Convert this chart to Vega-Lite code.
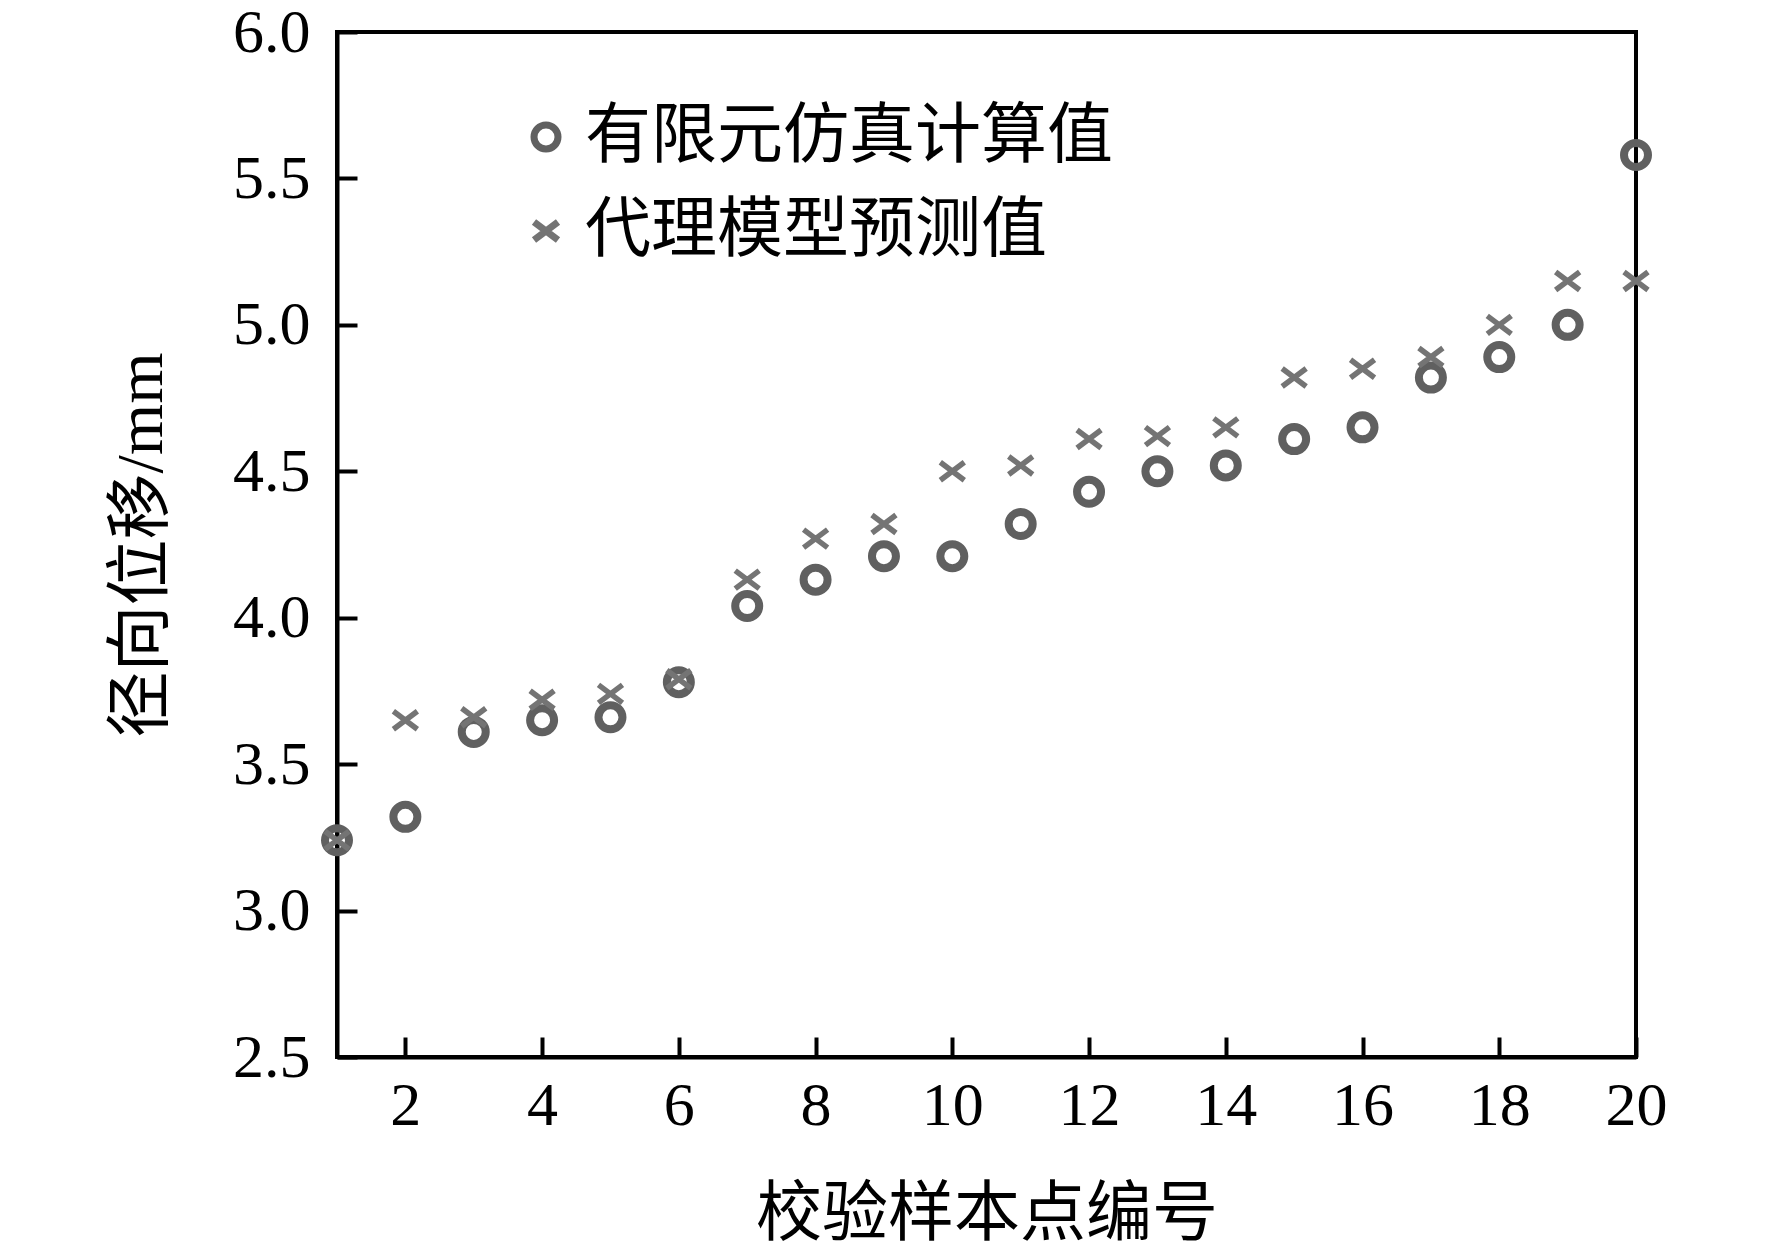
{
  "$schema": "https://vega.github.io/schema/vega-lite/v6.json",
  "autosize": "none",
  "padding": {"left": 337, "top": 32, "right": 136, "bottom": 194},
  "width": 1299,
  "height": 1025,
  "background": "white",
  "data": {
    "values": [
      {"sample": 1, "series": "有限元仿真计算值", "value": 3.24},
      {"sample": 2, "series": "有限元仿真计算值", "value": 3.32},
      {"sample": 3, "series": "有限元仿真计算值", "value": 3.61},
      {"sample": 4, "series": "有限元仿真计算值", "value": 3.65},
      {"sample": 5, "series": "有限元仿真计算值", "value": 3.66},
      {"sample": 6, "series": "有限元仿真计算值", "value": 3.78},
      {"sample": 7, "series": "有限元仿真计算值", "value": 4.04},
      {"sample": 8, "series": "有限元仿真计算值", "value": 4.13},
      {"sample": 9, "series": "有限元仿真计算值", "value": 4.21},
      {"sample": 10, "series": "有限元仿真计算值", "value": 4.21},
      {"sample": 11, "series": "有限元仿真计算值", "value": 4.32},
      {"sample": 12, "series": "有限元仿真计算值", "value": 4.43},
      {"sample": 13, "series": "有限元仿真计算值", "value": 4.50},
      {"sample": 14, "series": "有限元仿真计算值", "value": 4.52},
      {"sample": 15, "series": "有限元仿真计算值", "value": 4.61},
      {"sample": 16, "series": "有限元仿真计算值", "value": 4.65},
      {"sample": 17, "series": "有限元仿真计算值", "value": 4.82},
      {"sample": 18, "series": "有限元仿真计算值", "value": 4.89},
      {"sample": 19, "series": "有限元仿真计算值", "value": 5.00},
      {"sample": 20, "series": "有限元仿真计算值", "value": 5.58},
      {"sample": 1, "series": "代理模型预测值", "value": 3.24},
      {"sample": 2, "series": "代理模型预测值", "value": 3.65},
      {"sample": 3, "series": "代理模型预测值", "value": 3.66},
      {"sample": 4, "series": "代理模型预测值", "value": 3.72},
      {"sample": 5, "series": "代理模型预测值", "value": 3.74},
      {"sample": 6, "series": "代理模型预测值", "value": 3.79},
      {"sample": 7, "series": "代理模型预测值", "value": 4.13},
      {"sample": 8, "series": "代理模型预测值", "value": 4.27},
      {"sample": 9, "series": "代理模型预测值", "value": 4.32},
      {"sample": 10, "series": "代理模型预测值", "value": 4.50},
      {"sample": 11, "series": "代理模型预测值", "value": 4.52},
      {"sample": 12, "series": "代理模型预测值", "value": 4.61},
      {"sample": 13, "series": "代理模型预测值", "value": 4.62},
      {"sample": 14, "series": "代理模型预测值", "value": 4.65},
      {"sample": 15, "series": "代理模型预测值", "value": 4.82},
      {"sample": 16, "series": "代理模型预测值", "value": 4.85},
      {"sample": 17, "series": "代理模型预测值", "value": 4.89},
      {"sample": 18, "series": "代理模型预测值", "value": 5.00},
      {"sample": 19, "series": "代理模型预测值", "value": 5.15},
      {"sample": 20, "series": "代理模型预测值", "value": 5.15}
    ]
  },
  "encoding": {
    "x": {
      "field": "sample",
      "type": "quantitative",
      "scale": {"domain": [1, 20], "nice": false, "zero": false},
      "axis": {
        "title": "校验样本点编号",
        "values": [2, 4, 6, 8, 10, 12, 14, 16, 18, 20],
        "format": "d",
        "grid": false,
        "tickSize": -20,
        "labelPadding": 38,
        "labelFlush": false,
        "titleX": 649.5,
        "titleY": 157,
        "titleBaseline": "middle"
      }
    },
    "y": {
      "field": "value",
      "type": "quantitative",
      "scale": {"domain": [2.5, 6.0], "nice": false, "zero": false},
      "axis": {
        "title": "径向位移/mm",
        "values": [2.5, 3.0, 3.5, 4.0, 4.5, 5.0, 5.5, 6.0],
        "format": ".1f",
        "grid": false,
        "tickSize": -20,
        "labelPadding": 47,
        "labelFlush": false,
        "titleX": -196,
        "titleY": 512.5,
        "titleAngle": -90,
        "titleAlign": "center",
        "titleBaseline": "middle"
      }
    },
    "color": {
      "field": "series",
      "type": "nominal",
      "scale": {
        "domain": ["有限元仿真计算值", "代理模型预测值"],
        "range": ["#606060", "#747474"]
      },
      "legend": {
        "title": null,
        "orient": "none",
        "legendX": 176,
        "legendY": 72,
        "symbolSize": 576,
        "symbolStrokeWidth": 7,
        "labelOffset": 6,
        "rowPadding": 28,
        "labelLimit": 0,
        "labelFontSize": 66,
        "labelColor": "black",
        "labelFont": "Liberation Serif, Noto Sans CJK SC",
        "encode": {
          "symbols": {
            "enter": {
              "strokeWidth": {"signal": "datum.value === '有限元仿真计算值' ? 8 : 5"}
            },
            "update": {
              "strokeWidth": {"signal": "datum.value === '有限元仿真计算值' ? 8 : 5"}
            }
          }
        }
      }
    },
    "shape": {
      "field": "series",
      "type": "nominal",
      "scale": {
        "domain": ["有限元仿真计算值", "代理模型预测值"],
        "range": ["circle", "M-1,-0.75L1,0.75M-1,0.75L1,-0.75"]
      }
    }
  },
  "layer": [
    {
      "transform": [{"filter": "datum.series === '有限元仿真计算值'"}],
      "mark": {"type": "point", "filled": false, "size": 576, "strokeWidth": 8, "opacity": 1, "clip": false}
    },
    {
      "transform": [{"filter": "datum.series === '代理模型预测值'"}],
      "mark": {"type": "point", "filled": false, "size": 576, "strokeWidth": 5.5, "opacity": 1, "clip": false}
    }
  ],
  "config": {
    "view": {"stroke": "black", "strokeWidth": 4},
    "font": "Liberation Serif, Noto Sans CJK SC",
    "axis": {
      "domainColor": "black",
      "domainWidth": 4,
      "tickColor": "black",
      "tickWidth": 4,
      "labelFont": "Liberation Serif, Noto Sans CJK SC",
      "labelFontSize": 62,
      "labelColor": "black",
      "titleFont": "Liberation Serif, Noto Sans CJK SC",
      "titleFontSize": 66,
      "titleFontWeight": "normal",
      "titleColor": "black"
    }
  }
}
